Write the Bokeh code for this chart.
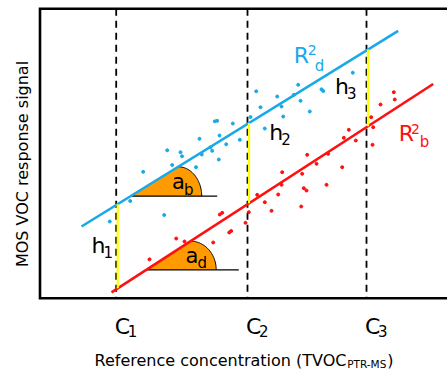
import numpy as np
from bokeh.plotting import figure
from bokeh.models import Range1d, ColumnDataSource
from bokeh.core.properties import value
from bokeh.embed import file_html
from bokeh.resources import INLINE

W, H = 447, 370

# ---------------- data (schematic units: x = concentration, y = signal, screen-like) -------------
frame_x = [447, 39.5, 39.5, 447]
frame_y = [8.3, 8.3, 297.7, 297.7]

conc_x = [115.7, 247.0, 366.0]          # C1, C2, C3
conc_sub = ["1", "2", "3"]

line_d_x = [81.0, 397.7]                # R2_d calibration line (blue)
line_d_y = [226.0, 30.3]
line_b_x = [111.0, 432.7]               # R2_b calibration line (red)
line_b_y = [291.8, 83.5]

blue_pts_x = [109.3, 129.7, 142.7, 163.7, 166.7, 171.7, 180.0, 181.5, 195.5, 199.0, 201.3,
              210.0, 211.7, 214.3, 216.7, 218.3, 219.0, 225.7, 232.3, 239.3, 250.0, 255.7,
              260.0, 264.3, 276.7, 281.0, 282.7, 293.3, 297.7, 300.0, 309.3, 321.0, 322.7, 352.3]
blue_pts_y = [221.0, 200.5, 171.3, 214.5, 149.8, 164.5, 151.7, 155.8, 166.7, 138.3, 154.0,
              146.8, 150.3, 120.8, 120.3, 159.0, 135.0, 143.8, 123.0, 139.3, 116.5, 90.8,
              106.7, 128.0, 96.0, 106.0, 116.0, 94.3, 84.3, 100.3, 111.0, 88.8, 90.5, 72.2]

red_pts_x = [149.0, 175.7, 184.0, 212.7, 219.3, 221.7, 228.7, 230.7, 245.0, 248.3, 256.7,
             264.3, 271.0, 277.7, 281.0, 281.7, 300.7, 301.7, 303.3, 306.0, 306.7, 316.0,
             326.0, 327.7, 341.7, 343.3, 348.3, 355.3, 370.7, 372.7, 372.0, 380.0, 393.3, 394.3]
red_pts_y = [258.8, 238.0, 241.0, 242.0, 214.0, 212.3, 232.0, 230.5, 222.3, 211.7, 194.3,
             201.7, 210.3, 194.0, 184.3, 171.7, 206.0, 173.3, 187.7, 190.0, 154.3, 163.3,
             184.3, 153.3, 166.7, 137.3, 129.3, 140.0, 116.7, 126.7, 144.3, 104.0, 91.7, 99.0]

# slope-angle markers a_b (on blue line) and a_d (on red line)
wedge_base_y = [195.7, 269.3]
wedge_apex_x = [177.7, 190.0]
wedge_rx = [23.5, 25.7]
wedge_end_x = [216.7, 238.3]

# ---------------- helpers -------------
def y_on(lx, ly, x):
    return ly[0] + (x - lx[0]) * (ly[1] - ly[0]) / (lx[1] - lx[0])

def x_on(lx, ly, y):
    return lx[0] + (y - ly[0]) * (lx[1] - lx[0]) / (ly[1] - ly[0])

BLUE = "#18a9e6"
RED = "#ff1010"
ORANGE = "#ff9a00"
YELLOW = "#ffff00"
FONT = value("DejaVu Sans")
SHIFT = 0.28   # baseline correction, fraction of font size

p = figure(width=W, height=H, x_range=Range1d(0, W), y_range=Range1d(H, 0),
           x_axis_type=None, y_axis_type=None, output_backend="svg",
           toolbar_location=None, min_border=0)
p.grid.visible = False
p.outline_line_color = None
p.background_fill_color = "white"
p.border_fill_color = "white"

# dashed concentration lines
p.multi_line(xs=[[c, c] for c in conc_x], ys=[[frame_y[0], frame_y[2]] for _ in conc_x],
             line_color="black", line_width=1.8, line_dash="7 5")

# frame
p.line(frame_x, frame_y, line_color="black", line_width=2.6, line_join="miter")

# wedges
lines = [(line_d_x, line_d_y), (line_b_x, line_b_y)]
for (lx, ly), by, ax, rx, ex in zip(lines, wedge_base_y, wedge_apex_x, wedge_rx, wedge_end_x):
    vx = x_on(lx, ly, by)
    ay = y_on(lx, ly, ax)
    ry = by - ay
    t = np.linspace(np.pi / 2, 0, 40)
    arc_x = ax + rx * np.cos(t)
    arc_y = by - ry * np.sin(t)
    px = np.concatenate([[vx], arc_x, [vx]])
    py = np.concatenate([[by], arc_y, [by]])
    p.patch(px, py, fill_color=ORANGE, line_color=None)
    p.line(arc_x, arc_y, line_color="black", line_width=1)
    p.line([vx, ex], [by, by], line_color="black", line_width=1.2)

# calibration lines
p.line(line_d_x, line_d_y, line_color=BLUE, line_width=2.6)
p.line(line_b_x, line_b_y, line_color=RED, line_width=2.6)

# yellow gaps h1..h3
gx = [c + 1.5 for c in conc_x]
p.multi_line(xs=[[g, g] for g in gx],
             ys=[[y_on(line_d_x, line_d_y, g), y_on(line_b_x, line_b_y, g)] for g in gx],
             line_color=YELLOW, line_width=2.2)

# scatter
p.scatter(blue_pts_x, blue_pts_y, size=3, color=BLUE)
p.scatter(red_pts_x, red_pts_y, size=3, color=RED)

def txt(x, y, t, size, color="black", align="left", angle=0.0):
    if angle:
        x = x - SHIFT * size
    else:
        y = y - SHIFT * size
    src = ColumnDataSource(dict(x=[x], y=[y], t=[t]))
    p.text("x", "y", "t", source=src, text_font=FONT, text_font_size=value(f"{size}px"),
           text_color=color, text_align=align, text_baseline="alphabetic", angle=angle)

# line labels
txt(293.3, 60.7, "R", 22, BLUE); txt(307.3, 53.3, "2", 14, BLUE); txt(314.3, 69.5, "d", 15, BLUE)
txt(398.3, 139.0, "R", 22, RED); txt(410.5, 132.5, "2", 14, RED); txt(419.3, 145.5, "b", 15, RED)

# gap labels
for (hx, hy), s in zip([(91.0, 250.7), (268.8, 137.7), (334.5, 91.7)], ["1", "2", "3"]):
    txt(hx, hy, "h", 22)
    txt(hx + 12.0, hy + 4.5, s, 15)

# angle labels
txt(171.5, 187.5, "a", 21); txt(183.5, 193.3, "b", 15)
txt(185.0, 261.7, "a", 21); txt(197.0, 266.7, "d", 15)

# concentration tick labels
for c, s in zip(conc_x, conc_sub):
    txt(c - 1.4, 331.7, "C", 22)
    txt(c + 11.5, 335.0, s, 15)

# axis titles
txt(94.0, 364.3, "Reference concentration (TVOC", 16)
txt(346.7, 366.3, "PTR-MS", 10.5)
txt(386.7, 364.3, ")", 16)
txt(26.5, 163.5, "MOS VOC response signal", 16, align="center", angle=np.pi / 2)

open("out.html", "w").write(file_html(p, INLINE))
